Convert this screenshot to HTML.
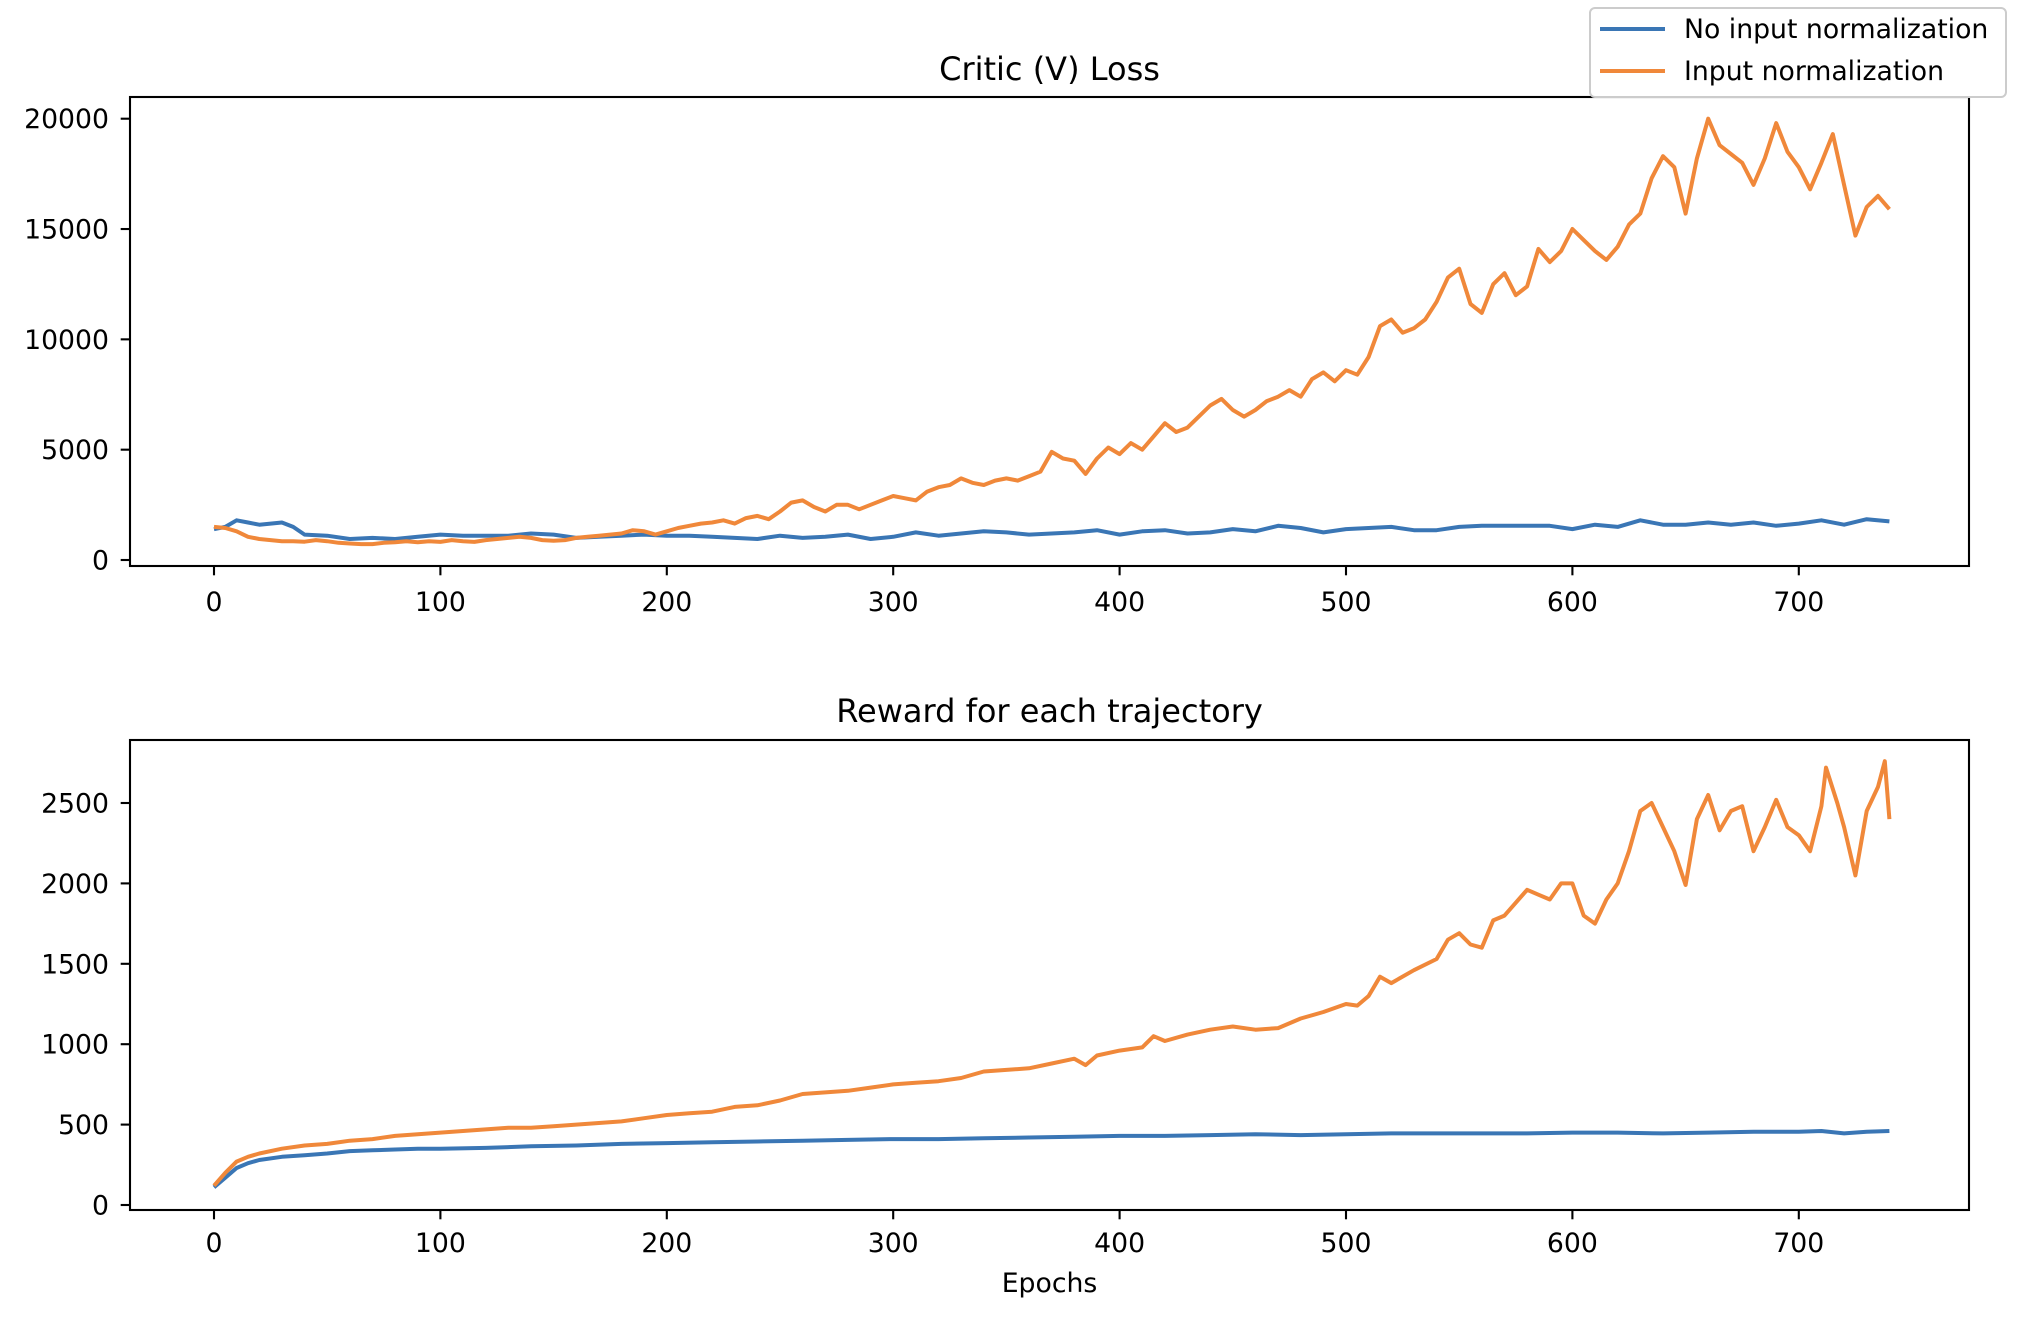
<!DOCTYPE html>
<html><head><meta charset="utf-8"><style>
html,body{margin:0;padding:0;background:#fff;}
svg{display:block;font-family:"DejaVu Sans","Liberation Sans",sans-serif;}
</style></head><body>
<svg id="fig" width="2018" height="1322" viewBox="0 0 2018 1322" xmlns="http://www.w3.org/2000/svg">
<rect width="2018" height="1322" fill="#fff"/>
<g id="top"></g>
<g id="bot"></g>
<g>
<rect x="1590" y="8" width="416" height="89" rx="5" fill="#fff" stroke="#ccc" stroke-width="2"/>
<line x1="1600" y1="29" x2="1665" y2="29" stroke="#3a76b5" stroke-width="4"/>
<text x="1684" y="38" font-size="26.7">No input normalization</text>
<line x1="1600" y1="71" x2="1665" y2="71" stroke="#f0883a" stroke-width="4"/>
<text x="1684" y="80" font-size="26.7">Input normalization</text>
</g>
</svg>
<script>
const lossOrangeX=[0,5,10,15,20,25,30,35,40,45,50,55,60,65,70,75,80,85,90,95,100,105,110,115,120,125,130,135,140,145,150,155,160,165,170,175,180,185,190,195,200,205,210,215,220,225,230,235,240,245,250,255,260,265,270,275,280,285,290,295,300,305,310,315,320,325,330,335,340,345,350,355,360,365,370,375,380,385,390,395,400,405,410,415,420,425,430,435,440,445,450,455,460,465,470,475,480,485,490,495,500,505,510,515,520,525,530,535,540,545,550,555,560,565,570,575,580,585,590,595,600,605,610,615,620,625,630,635,640,645,650,655,660,665,670,675,680,685,690,695,700,705,710,715,720,725,730,735,740];
const lossOrange=[1500,1450,1300,1050,950,900,850,850,830,900,850,780,750,720,720,780,800,850,800,850,820,900,850,820,900,950,1000,1050,1000,900,870,900,1000,1050,1100,1150,1200,1350,1300,1150,1300,1450,1550,1650,1700,1800,1650,1900,2000,1850,2200,2600,2700,2400,2200,2500,2500,2300,2500,2700,2900,2800,2700,3100,3300,3400,3700,3500,3400,3600,3700,3600,3800,4000,4900,4600,4500,3900,4600,5100,4800,5300,5000,5600,6200,5800,6000,6500,7000,7300,6800,6500,6800,7200,7400,7700,7400,8200,8500,8100,8600,8400,9200,10600,10900,10300,10500,10900,11700,12800,13200,11600,11200,12500,13000,12000,12400,14100,13500,14000,15000,14500,14000,13600,14200,15200,15700,17300,18300,17800,15700,18200,20000,18800,18400,18000,17000,18200,19800,18500,17800,16800,18000,19300,17000,14700,16000,16500,15900];
const lossBlueX=[0,5,10,15,20,25,30,35,40,50,60,70,80,90,100,110,120,130,140,150,160,170,180,190,200,210,220,230,240,250,260,270,280,290,300,310,320,330,340,350,360,370,380,390,400,410,420,430,440,450,460,470,480,490,500,510,520,530,540,550,560,570,580,590,600,610,620,630,640,650,660,670,680,690,700,710,720,730,740];
const lossBlue=[1400,1500,1800,1700,1600,1650,1700,1500,1150,1100,950,1000,950,1050,1150,1100,1100,1100,1200,1150,1000,1050,1100,1150,1100,1100,1050,1000,950,1100,1000,1050,1150,950,1050,1250,1100,1200,1300,1250,1150,1200,1250,1350,1150,1300,1350,1200,1250,1400,1300,1550,1450,1250,1400,1450,1500,1350,1350,1500,1550,1550,1550,1550,1400,1600,1500,1800,1600,1600,1700,1600,1700,1550,1650,1800,1600,1850,1750];
const rewOrangeX=[0,5,10,15,20,30,40,50,60,70,80,90,100,110,120,130,140,150,160,170,180,190,200,210,220,230,240,250,260,270,280,290,300,310,320,330,340,350,360,370,380,385,390,400,410,415,420,430,440,450,460,470,480,490,500,505,510,515,520,530,540,545,550,555,560,565,570,575,580,585,590,595,600,605,610,615,620,625,630,635,640,645,650,655,660,665,670,675,680,685,690,695,700,705,710,712,717,720,725,730,735,738,740];
const rewOrange=[120,200,270,300,320,350,370,380,400,410,430,440,450,460,470,480,480,490,500,510,520,540,560,570,580,610,620,650,690,700,710,730,750,760,770,790,830,840,850,880,910,870,930,960,980,1050,1020,1060,1090,1110,1090,1100,1160,1200,1250,1240,1300,1420,1380,1460,1530,1650,1690,1620,1600,1770,1800,1880,1960,1930,1900,2000,2000,1800,1750,1900,2000,2200,2450,2500,2350,2200,1990,2400,2550,2330,2450,2480,2200,2350,2520,2350,2300,2200,2480,2720,2500,2350,2050,2450,2600,2760,2400];
const rewBlueX=[0,5,10,15,20,30,40,50,60,70,80,90,100,120,140,160,180,200,220,240,260,280,300,320,340,360,380,400,420,440,460,480,500,520,540,560,580,600,620,640,660,680,700,710,720,730,740];
const rewBlue=[110,170,230,260,280,300,310,320,335,340,345,350,350,355,365,370,380,385,390,395,400,405,410,410,415,420,425,430,430,435,440,435,440,445,445,445,445,450,450,445,450,455,455,460,445,455,460];
const xTicks=[0,100,200,300,400,500,600,700];
const lossTicks=[0,5000,10000,15000,20000];
const rewTicks=[0,500,1000,1500,2000,2500];

const NS="http://www.w3.org/2000/svg";
function mk(parent,tag,attrs){const e=document.createElementNS(NS,tag);for(const k in attrs)e.setAttribute(k,attrs[k]);parent.appendChild(e);return e;}
const L=130,R=1969;
const xs=e=>214+e*2.264;
function drawAxes(g,top,bottom,ys,yt,title,tlabY,titleY,pfx){
  const t=mk(g,'text',{x:(L+R)/2,y:titleY,'font-size':32,'text-anchor':'middle'});t.textContent=title;
  
  
  xTicks.forEach(v=>{const x=xs(v);
    const l=mk(g,'line',{x1:x,x2:x,y1:bottom,y2:bottom+9.3,stroke:'#000','stroke-width':2.1});
    
    
    const s=mk(g,'text',{x:x,y:tlabY,'font-size':26.7,'text-anchor':'middle'});s.textContent=v;
    
    
  });
  yt.forEach(v=>{const y=ys(v);
    const l=mk(g,'line',{x1:L-9.3,x2:L,y1:y,y2:y,stroke:'#000','stroke-width':2.1});
    
    
    const s=mk(g,'text',{x:L-21,y:y+9.5,'font-size':26.7,'text-anchor':'end'});s.textContent=v;
    
    
  });
}
function line(g,X,Y,ys,color,name){
  const pts=X.map((x,i)=>xs(x).toFixed(1)+','+ys(Y[i]).toFixed(1)).join(' ');
  const p=mk(g,'polyline',{points:pts,fill:'none',stroke:color,'stroke-width':4,'stroke-linejoin':'round'});
  
  
}
function frame(g,top,bottom,pfx){
  const r=mk(g,'rect',{x:L,y:top,width:R-L,height:bottom-top,fill:'none',stroke:'#000','stroke-width':2.1});
  
  
}
const gT=document.getElementById('top');
const ysT=v=>560-v*0.022065;
drawAxes(gT,97,566,ysT,lossTicks,'Critic (V) Loss',611,80,'loss');
line(gT,lossBlueX,lossBlue,ysT,'#3a76b5','loss-line-no-norm');
line(gT,lossOrangeX,lossOrange,ysT,'#f0883a','loss-line-norm');
frame(gT,97,566,'loss');
const gB=document.getElementById('bot');
const ysB=v=>1205-v*0.1608;
drawAxes(gB,740,1210,ysB,rewTicks,'Reward for each trajectory',1252,722,'reward');
line(gB,rewBlueX,rewBlue,ysB,'#3a76b5','reward-line-no-norm');
line(gB,rewOrangeX,rewOrange,ysB,'#f0883a','reward-line-norm');
frame(gB,740,1210,'reward');
const xl=mk(gB,'text',{x:(L+R)/2,y:1292,'font-size':26.7,'text-anchor':'middle'});xl.textContent='Epochs';


</script>
</body></html>
